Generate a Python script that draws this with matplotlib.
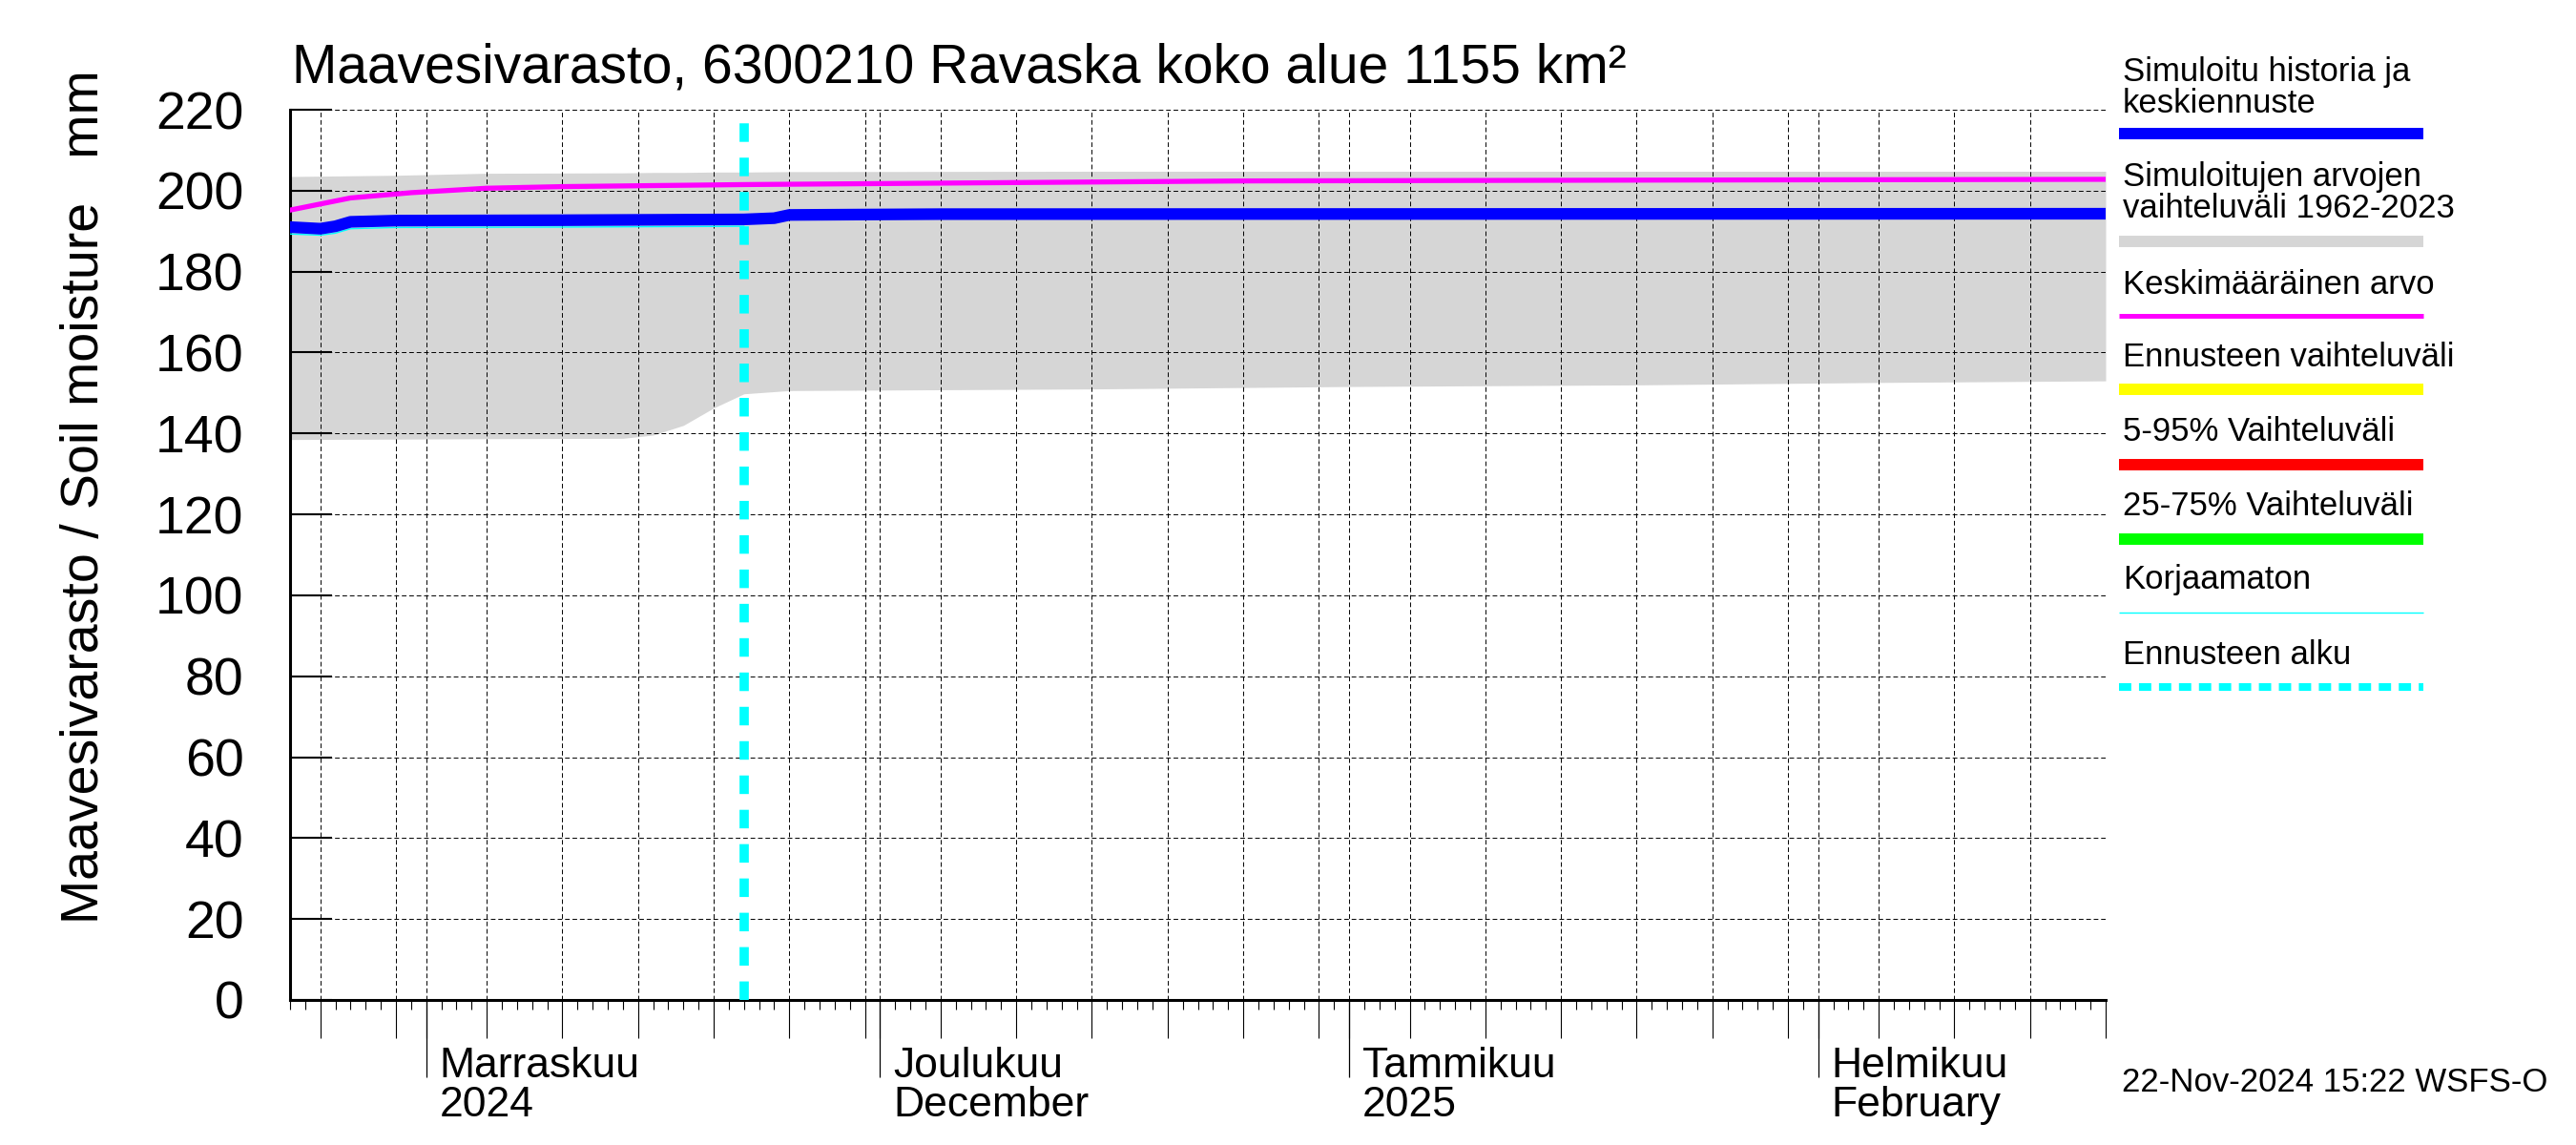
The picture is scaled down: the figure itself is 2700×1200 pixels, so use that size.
import pandas as pd
import matplotlib
matplotlib.use('Agg')
import matplotlib.pyplot as plt
import matplotlib.dates as mdates
from matplotlib.lines import Line2D

plt.rcParams['font.family'] = ['Liberation Sans', 'DejaVu Sans']

# data
band_dates = ['2024-10-23', '2024-10-30', '2024-11-05', '2024-11-14', '2024-11-16',
              '2024-11-18', '2024-11-20', '2024-11-22', '2024-11-25', '2024-12-15',
              '2025-01-01', '2025-01-20', '2025-02-05', '2025-02-20']
band_low = [138.5, 138.6, 138.7, 138.8, 139.6, 142.0, 146.3, 149.8, 150.6, 151.0,
            151.6, 152.0, 152.6, 153.0]
band_high = [203.5, 203.8, 204.3, 204.4, 204.5, 204.5, 204.6, 204.6, 204.7, 204.8,
             204.8, 204.8, 204.8, 204.8]

mean_dates = ['2024-10-23', '2024-10-27', '2024-10-31', '2024-11-05', '2024-11-10',
              '2024-11-22', '2024-12-10', '2024-12-25', '2025-01-20', '2025-02-20']
mean_vals = [195.2, 198.2, 199.5, 200.6, 201.0, 201.5, 202.0, 202.4, 202.6, 202.8]

sim_dates = ['2024-10-23', '2024-10-25', '2024-10-26', '2024-10-27', '2024-10-30',
             '2024-11-10', '2024-11-22', '2024-11-24', '2024-11-25', '2024-12-05',
             '2025-02-20']
sim_vals = [191.0, 190.6, 191.2, 192.3, 192.6, 192.7, 192.9, 193.2, 194.0, 194.2, 194.3]

raw_dates = ['2024-10-23', '2024-10-25', '2024-10-26', '2024-10-27', '2024-10-30',
             '2024-11-10', '2024-11-22']
raw_vals = [189.3, 189.0, 189.5, 190.6, 190.9, 191.0, 191.2]

forecast_start = '2024-11-22'
x_start, x_end = '2024-10-23', '2025-02-20'

month_starts = ['2024-11-01', '2024-12-01', '2025-01-01', '2025-02-01']
month_labels = ['Marraskuu\n2024', 'Joulukuu\nDecember', 'Tammikuu\n2025', 'Helmikuu\nFebruary']

legend_labels = ['Simuloitu historia ja\nkeskiennuste', 'Simuloitujen arvojen\nvaihteluväli 1962-2023',
                 'Keskimääräinen arvo', 'Ennusteen vaihteluväli', '5-95% Vaihteluväli',
                 '25-75% Vaihteluväli', 'Korjaamaton', 'Ennusteen alku']

title = 'Maavesivarasto, 6300210 Ravaska koko alue 1155 km²'
ylabel = 'Maavesivarasto / Soil moisture   mm'
stamp = '22-Nov-2024 15:22 WSFS-O'

W, H = 2700, 1200
fig = plt.figure(figsize=(27, 12), dpi=100)
ax = fig.add_axes([304 / W, 1 - 1048 / H, (2207 - 304) / W, (1048 - 115) / H])

bd = pd.to_datetime(band_dates)
ax.fill_between(bd, band_low, band_high, color='#d6d6d6', lw=0, zorder=1)
ax.plot(pd.to_datetime(mean_dates), mean_vals, color='#ff00ff', lw=3.8, zorder=3)
ax.plot(pd.to_datetime(raw_dates), raw_vals, color='#00ffff', lw=1.0, zorder=3)
ax.plot(pd.to_datetime(sim_dates), sim_vals, color='#0000ff', lw=8.8, zorder=4)
ax.axvline(pd.Timestamp(forecast_start), color='#00ffff', lw=7, ls=(0, (2.0, 1.7)), zorder=5)

ax.set_xlim(pd.Timestamp(x_start), pd.Timestamp(x_end))
ax.set_ylim(0, 220)
ax.set_yticks(range(0, 221, 20))
ax.tick_params(axis='y', direction='in', length=32, width=1.5, pad=35, labelsize=40)

days = pd.date_range(x_start, x_end, freq='D')
grid_days = [d for d in days if d.day in (1, 5, 10, 15, 20, 25, 30)]
ax.set_xticks(mdates.date2num(grid_days))
ax.set_xticks(mdates.date2num(days), minor=True)
ax.set_xticklabels([])
ax.tick_params(axis='x', which='major', direction='out', length=29, width=0.8)
ax.tick_params(axis='x', which='minor', direction='out', length=7, width=0.8)

sec = ax.secondary_xaxis('bottom')
sec.set_xticks(mdates.date2num(pd.to_datetime(month_starts)))
sec.set_xticklabels([])
sec.tick_params(direction='out', length=58, width=0.9)
sec.spines['bottom'].set_visible(False)

ax.grid(True, which='major', color='black', lw=0.7, ls=(0, (5, 3)), zorder=2)
ax.set_axisbelow(False)
for s in ('top', 'right'):
    ax.spines[s].set_visible(False)
for s in ('left', 'bottom'):
    ax.spines[s].set_linewidth(2.2)

for d, lab in zip(month_starts, month_labels):
    ax.annotate(lab, xy=(pd.Timestamp(d), 0), xycoords=('data', 'axes fraction'),
                xytext=(10, -35), textcoords='offset points', ha='left', va='top',
                fontsize=32, linespacing=1.0)

fig.text(306 / W, 1 - 87 / H, title, fontsize=41, ha='left', va='baseline')
fig.text(89 / W, 1 - 521 / H, ylabel, fontsize=40, rotation=90, ha='center', va='center')
fig.text(2224 / W, 1 - 1135 / H, stamp, fontsize=25, ha='left', va='center')

# legend at the right
leg_styles = [dict(color='#0000ff', lw=8.6), dict(color='#d6d6d6', lw=8.6),
              dict(color='#ff00ff', lw=3.6), dict(color='#ffff00', lw=8.6),
              dict(color='#ff0000', lw=8.6), dict(color='#00ff00', lw=8.6),
              dict(color='#00ffff', lw=1.0), dict(color='#00ffff', lw=5.8, ls=(0, (1.6, 1.0)))]
text_y = [92, 202, 298, 375, 453, 530, 608, 687]
line_y = [139.5, 253, 330.6, 408, 487, 565, 642, 720]
for lab, ty, ly, st in zip(legend_labels, text_y, line_y, leg_styles):
    fig.text(2225 / W, 1 - ty / H, lab, fontsize=25, ha='left', va='center', linespacing=1.0)
    fig.add_artist(Line2D([2221 / W, 2540 / W], [1 - ly / H, 1 - ly / H],
                          transform=fig.transFigure, solid_capstyle='butt', **st))

fig.savefig('out.png', dpi=100)
